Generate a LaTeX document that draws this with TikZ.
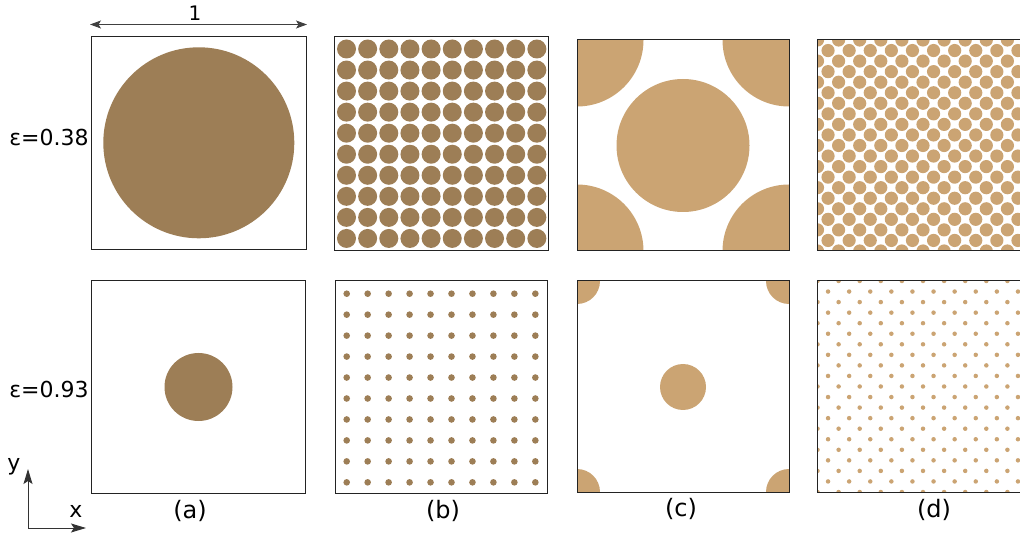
\documentclass[tikz,border=0pt]{standalone}
\usepackage{fontspec}
\setmainfont{DejaVu Sans}
\usetikzlibrary{arrows.meta}
\definecolor{darkporous}{RGB}{157,126,86}
\definecolor{lightporous}{RGB}{203,164,115}
\definecolor{framegray}{RGB}{35,35,35}
\begin{document}
\begin{tikzpicture}[x=1pt,y=-1pt,
  frame/.style={draw=framegray, line width=1pt},
  darkgrain/.style={fill=darkporous},
  lightgrain/.style={fill=lightporous},
  lbl/.style={font=\fontsize{22}{26}\selectfont, inner sep=0pt},
  panellbl/.style={font=\fontsize{24}{28}\selectfont, inner sep=0pt},
  arr/.style={-{Stealth[length=15pt,width=9pt,inset=3pt]}, line width=1pt, draw=black!80, fill=black},
  dimarr/.style={{Stealth[length=11pt,width=8pt,inset=2.5pt]}-{Stealth[length=11pt,width=8pt,inset=2.5pt]}, line width=1pt, draw=black!75}]
\useasboundingbox (0,0) rectangle (1020,534);

% ---------- (a) ----------
\fill[darkgrain] (198.8,142.8) circle[radius=95.5];
\draw[frame] (91.5,36.5) rectangle (306,250);
\fill[darkgrain] (198.5,387) circle[radius=34];
\draw[frame] (91.5,281) rectangle (305,493);

% ---------- (b) ----------
\foreach \i in {0,...,9}{
  \foreach \j in {0,...,9}{
    \fill[darkgrain] (346.5+21.15*\i, 49+21.05*\j) circle[radius=9.5];
  }
}
\draw[frame] (334.5,36.5) rectangle (548.5,250.5);
\foreach \i in {0,...,9}{
  \foreach \j in {0,...,9}{
    \fill[darkgrain] (346.7+20.96*\i, 293.7+20.96*\j) circle[radius=3.3];
  }
}
\draw[frame] (335,281) rectangle (547.5,493.5);

% ---------- (c) ----------
\begin{scope}
  \clip (577,40) rectangle (789,251);
  \fill[lightgrain] (683,145.5) circle[radius=66.5];
  \foreach \p in {(577,40),(789,40),(577,251),(789,251)}{
    \fill[lightgrain] \p circle[radius=66.5];
  }
\end{scope}
\draw[frame] (577,40) rectangle (789,251);
\begin{scope}
  \clip (577,281) rectangle (789,492);
  \fill[lightgrain] (683,387) circle[radius=23];
  \foreach \p in {(577,281),(789,281),(577,492),(789,492)}{
    \fill[lightgrain] \p circle[radius=23];
  }
\end{scope}
\draw[frame] (577,281) rectangle (789,492);

% ---------- (d) ----------
\begin{scope}
  \clip (817.5,40) rectangle (1020,251);
  \foreach \i in {0,...,10}{
    \foreach \j in {0,...,10}{
      \fill[lightgrain] (817.5+21.1*\i, 40+21.1*\j) circle[radius=6.6];
    }
  }
  \foreach \i in {0,...,9}{
    \foreach \j in {0,...,9}{
      \fill[lightgrain] (828.05+21.1*\i, 50.55+21.1*\j) circle[radius=6.6];
    }
  }
\end{scope}
\draw[frame] (1030,40) -- (817.5,40) -- (817.5,251) -- (1030,251);
\begin{scope}
  \clip (817.5,281) rectangle (1020,492);
  \foreach \i in {0,...,10}{
    \foreach \j in {0,...,10}{
      \fill[lightgrain] (817.5+21.1*\i, 281+21.1*\j) circle[radius=2.25];
    }
  }
  \foreach \i in {0,...,9}{
    \foreach \j in {0,...,9}{
      \fill[lightgrain] (828.05+21.1*\i, 291.55+21.1*\j) circle[radius=2.25];
    }
  }
\end{scope}
\draw[frame] (1030,281) -- (817.5,281) -- (817.5,492) -- (1030,492);

% ---------- labels ----------
\node[lbl] (eps1) at (49,137) {ε=0.38};
\node[lbl] (eps2) at (49,389) {ε=0.93};
\node[panellbl] (la) at (190,511) {(a)};
\node[panellbl] (lb) at (443,511) {(b)};
\node[panellbl] (lc) at (681,509) {(c)};
\node[panellbl] (ld) at (934,510) {(d)};

% ---------- dimension arrow ----------
\coordinate (dimL) at (90,24.5);
\coordinate (dimR) at (307,24.5);
\draw[dimarr] (dimL) -- (dimR);
\node[font=\fontsize{20}{24}\selectfont, inner sep=0pt] (one) at (195,13.5) {1};

% ---------- axes ----------
\coordinate (O) at (28,528);
\coordinate (Ytip) at (28,469);
\coordinate (Xtip) at (86,528);
\draw[arr] (O) -- (Ytip);
\draw[arr] (O) -- (Xtip);
\node[lbl] (ylab) at (14,467) {y};
\node[lbl] (xlab) at (76,511) {x};
\end{tikzpicture}
\end{document}
